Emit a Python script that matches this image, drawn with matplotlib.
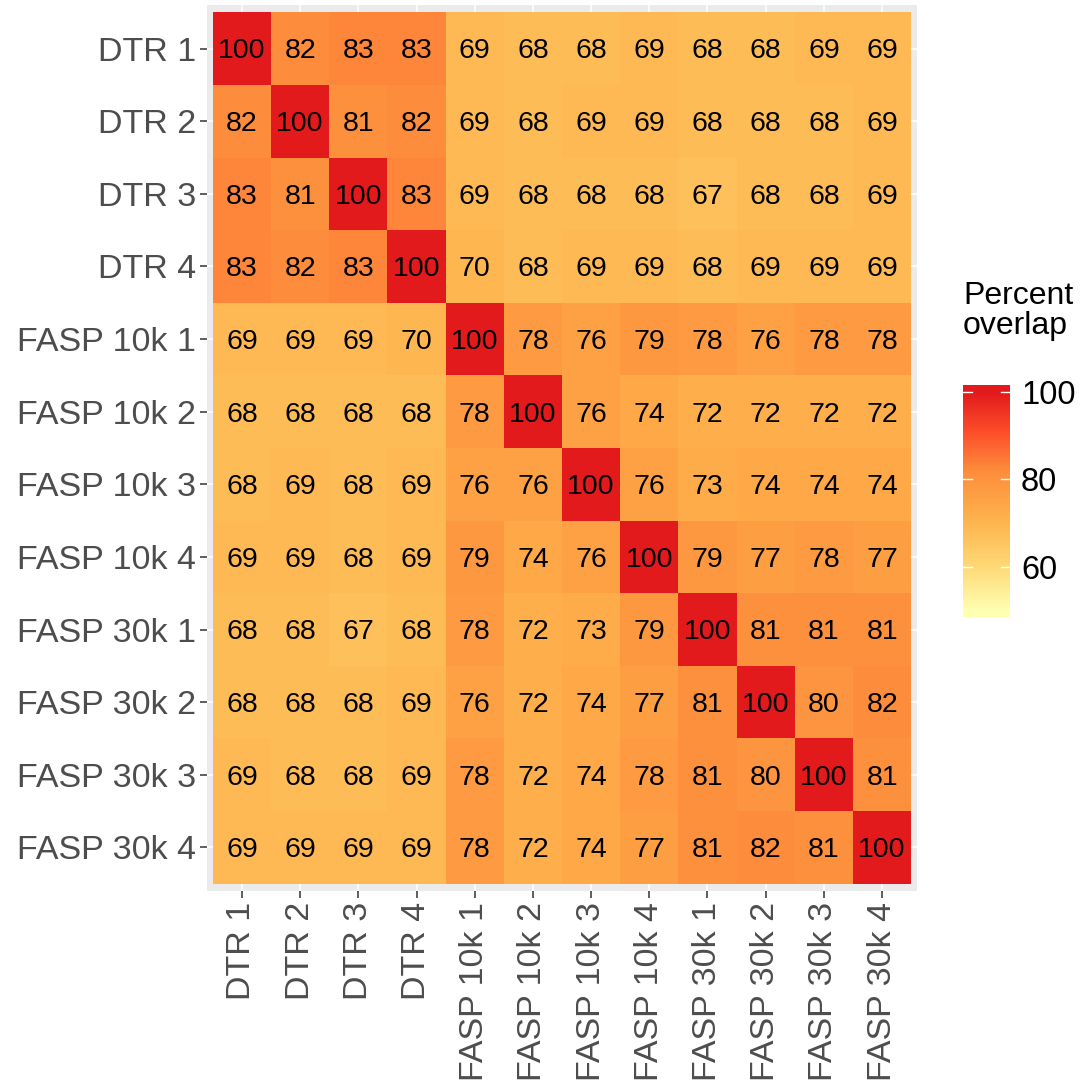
import numpy as np
import matplotlib.pyplot as plt
from matplotlib.colors import LinearSegmentedColormap, Normalize

plt.rcParams['font.family'] = ['Liberation Sans', 'DejaVu Sans']

# sample names, top to bottom / left to right
samples = ['DTR 1', 'DTR 2', 'DTR 3', 'DTR 4',
           'FASP 10k 1', 'FASP 10k 2', 'FASP 10k 3', 'FASP 10k 4',
           'FASP 30k 1', 'FASP 30k 2', 'FASP 30k 3', 'FASP 30k 4']

# percent overlap, one row per sample
overlap = [
    [100, 82, 83, 83, 69, 68, 68, 69, 68, 68, 69, 69],
    [82, 100, 81, 82, 69, 68, 69, 69, 68, 68, 68, 69],
    [83, 81, 100, 83, 69, 68, 68, 68, 67, 68, 68, 69],
    [83, 82, 83, 100, 70, 68, 69, 69, 68, 69, 69, 69],
    [69, 69, 69, 70, 100, 78, 76, 79, 78, 76, 78, 78],
    [68, 68, 68, 68, 78, 100, 76, 74, 72, 72, 72, 72],
    [68, 69, 68, 69, 76, 76, 100, 76, 73, 74, 74, 74],
    [69, 69, 68, 69, 79, 74, 76, 100, 79, 77, 78, 77],
    [68, 68, 67, 68, 78, 72, 73, 79, 100, 81, 81, 81],
    [68, 68, 68, 69, 76, 72, 74, 77, 81, 100, 80, 82],
    [69, 68, 68, 69, 78, 72, 74, 78, 81, 80, 100, 81],
    [69, 69, 69, 69, 78, 72, 74, 77, 81, 82, 81, 100],
]

legend_ticks = [60, 80, 100]

# YlOrRd-style ramp, stops placed on the 50..100 scale
vmin, vmax = 50, 100
stops = [(50, '#FFFFB2'), (60, '#FED976'), (71, '#FEB24C'),
         (82, '#FD8D3C'), (91, '#FC4E2A'), (100, '#E31A1C')]
cmap = LinearSegmentedColormap.from_list(
    'ylorrd', [((v - vmin) / (vmax - vmin), c) for v, c in stops])
norm = Normalize(vmin=vmin, vmax=vmax)

data = np.array(overlap, dtype=float)
n = len(samples)

fig = plt.figure(figsize=(10.83, 10.89), dpi=100)
ax = fig.add_axes([207 / 1083, 1 - 891 / 1089, 710 / 1083, 886 / 1089])
ax.set_facecolor('#EBEBEB')

# white grid lines behind tiles, like ggplot
for i in range(n):
    ax.axvline(i, color='white', lw=1.1, zorder=0)
    ax.axhline(i, color='white', lw=1.1, zorder=0)

ax.pcolormesh(np.arange(n + 1) - 0.5, np.arange(n + 1) - 0.5, data,
              cmap=cmap, norm=norm, zorder=1)

for r in range(n):
    for c in range(n):
        ax.text(c, r + 0.04, f'{int(data[r, c])}', ha='center', va='center',
                fontsize=20.5, color='black', zorder=2)

ax.set_xlim(-0.6, n - 0.4)
ax.set_ylim(n - 0.4, -0.6)
ax.set_xticks(range(n))
ax.set_yticks(range(n))
ax.set_xticklabels(samples, rotation=90, fontsize=24.5, color='#4D4D4D')
ax.set_yticklabels(samples, fontsize=24.5, color='#4D4D4D')
ax.tick_params(length=5, width=1.1, color='#333333', pad=3)
for s in ax.spines.values():
    s.set_visible(False)

# colour bar legend
cax = fig.add_axes([963 / 1083, 1 - 617 / 1089, 47 / 1083, 232 / 1089])
lo, hi = 48.57, 101.6
grad = np.linspace(lo, hi, 300).reshape(-1, 1)
cax.imshow(grad, aspect='auto', origin='lower', cmap=cmap, norm=norm,
           extent=[0, 1, lo, hi])
cax.set_xlim(0, 1)
cax.set_ylim(lo, hi)
for t in legend_ticks:
    cax.plot([0, 0.2], [t, t], color='white', lw=1)
    cax.plot([0.8, 1], [t, t], color='white', lw=1)
cax.set_xticks([])
cax.set_yticks(legend_ticks)
cax.yaxis.tick_right()
cax.set_yticklabels([str(t) for t in legend_ticks], fontsize=23.5, color='black')
cax.tick_params(axis='y', length=0, pad=8)
for s in cax.spines.values():
    s.set_visible(False)

fig.text(963 / 1083, 1 - 281 / 1089, 'Percent\noverlap', ha='left', va='top',
         fontsize=23, color='black', linespacing=1.0)

fig.savefig('out.png', dpi=100)
